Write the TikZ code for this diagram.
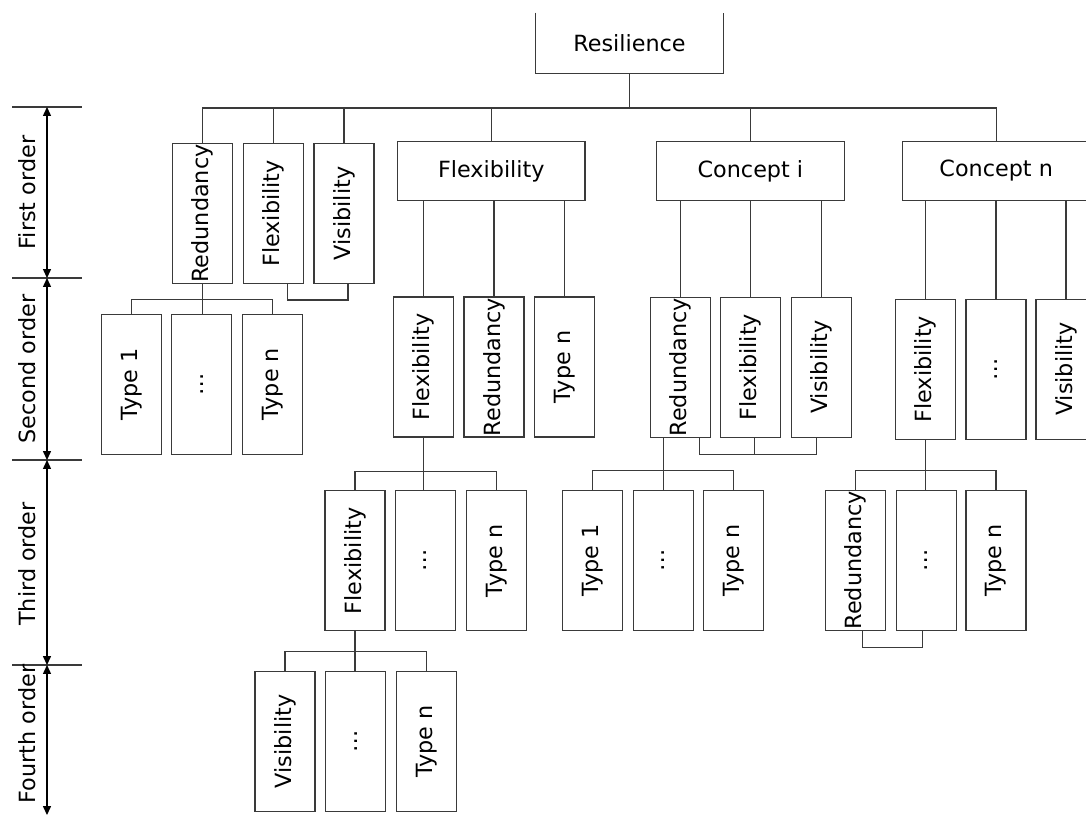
\documentclass[tikz,border=0pt]{standalone}
\usepackage{fontspec}
\setmainfont{DejaVu Sans}
\usepackage{graphicx}
\usepackage{tikz}
\usetikzlibrary{arrows.meta, calc}
\definecolor{linegray}{HTML}{3A3A3A}
\newcommand{\vtxt}[1]{\rotatebox{90}{#1}}

\begin{document}
\begin{tikzpicture}[x=0.02cm, y=-0.02cm,
    every node/.style={font=\fontsize{12.7}{15}\selectfont, text=black},
    vbox/.style={draw=linegray, line width=0.7pt, minimum width=1.2cm, minimum height=2.8cm, inner sep=0pt},
    hbox/.style={draw=linegray, line width=0.7pt, minimum width=3.75cm, minimum height=1.18cm, inner sep=0pt},
    conn/.style={draw=linegray, line width=0.7pt},
    dimarrow/.style={draw=black, line width=0.6pt, {Triangle[width=4.5pt,length=5pt]}-{Triangle[width=4.5pt,length=5pt]}}]
    \useasboundingbox (0,0) rectangle (1086,816);

    % ===== Order axis =====
    \foreach \y in {107,278,460,665} {
        \draw[conn] (12,\y) -- (82,\y);
    }
    \foreach \y [count=\i] in {107,278,460,665,815} {
        \coordinate (t\i) at (47,\y);
    }
    \draw[dimarrow] (t1) -- (t2);
    \draw[dimarrow] (t2) -- (t3);
    \draw[dimarrow] (t3) -- (t4);
    \draw[dimarrow] (t4) -- (t5);
    \node[rotate=90] (lab1) at (27,192.5) {First order};
    \node[rotate=90] (lab2) at (27,369) {Second order};
    \node[rotate=90] (lab3) at (27,564) {Third order};
    \node[rotate=90] (lab4) at (27,734) {Fourth order};

    % ===== Root (top edge cut off) =====
    \node[minimum width=3.75cm, minimum height=1.2cm] (res) at (629.5,43) {Resilience};
    \draw[conn] (res.north west) -- (res.south west) -- (res.south east) -- (res.north east);

    % ===== First order =====
    \node[vbox] (r1) at (202.7,213.5) {\vtxt{Redundancy}};
    \node[vbox] (f1) at (273.3,213.5) {\vtxt{Flexibility}};
    \node[vbox] (v1) at (344,213.5) {\vtxt{Visibility}};
    \node[hbox] (fl) at (491.3,171) {Flexibility};
    \node[hbox] (ci) at (750.4,171) {Concept i};
    \node[hbox] (cn) at (996.2,171) {Concept n};
    \coordinate (top) at (0,108);
    \draw[conn] (r1.north) -- (r1.north |- top) -- (cn.north |- top) -- (cn.north);
    \foreach \n in {f1,v1,fl,ci} {
        \draw[conn] (\n.north) -- (\n.north |- top);
    }
    \draw[conn] (res.south) -- (res.south |- top);
    \draw[conn] ($(f1.south)+(14,0)$) -- ++(0,16) -| ($(v1.south)+(4,0)$);

    % ===== Second order =====
    % under Redundancy
    \node[vbox] (t1a) at (131.4,384.3) {\vtxt{Type 1}};
    \node[vbox] (d1a) at (201.7,384.3) {\vtxt{…}};
    \node[vbox] (tna) at (272.3,384.3) {\vtxt{Type n}};
    \draw[conn] (t1a.north) -- ++(0,-14) -| (tna.north);
    \draw[conn] (r1.south) -- (r1.south |- d1a.north);
    % under Flexibility
    \node[vbox] (f2) at (423.3,367) {\vtxt{Flexibility}};
    \node[vbox] (r2) at (494,367) {\vtxt{Redundancy}};
    \node[vbox] (tn2) at (564.2,367) {\vtxt{Type n}};
    \foreach \n in {f2,r2,tn2} {
        \draw[conn] (\n.north) -- (\n.north |- fl.south);
    }
    % under Concept i
    \node[vbox] (r5) at (680.5,367.2) {\vtxt{Redundancy}};
    \node[vbox] (f5) at (750.8,367.2) {\vtxt{Flexibility}};
    \node[vbox] (v5) at (821.3,367.2) {\vtxt{Visibility}};
    \foreach \n in {r5,f5,v5} {
        \draw[conn] (\n.north) -- (\n.north |- ci.south);
    }
    \draw[conn] ($(r5.south)+(19,0)$) -- ++(0,16.5) -| ($(v5.south)+(-4.6,0)$);
    \draw[conn] ($(f5.south)+(3.5,0)$) -- ++(0,16.5);
    % under Concept n
    \node[vbox] (f7) at (925.4,369.2) {\vtxt{Flexibility}};
    \node[vbox] (d7) at (995.9,369.2) {\vtxt{…}};
    \node[vbox] (v7) at (1066,369.2) {\vtxt{Visibility}};
    \foreach \n in {f7,d7,v7} {
        \draw[conn] (\n.north) -- (\n.north |- cn.south);
    }

    % ===== Third order =====
    \node[vbox] (f3) at (355,560.8) {\vtxt{Flexibility}};
    \node[vbox] (d3) at (425.5,560.8) {\vtxt{…}};
    \node[vbox] (tn3) at (496.7,560.8) {\vtxt{Type n}};
    \draw[conn] (f3.north) -- ++(0,-19) -| (tn3.north);
    \draw[conn] (f2.south) -- (f2.south |- d3.north);

    \node[vbox] (t6) at (592.4,560.3) {\vtxt{Type 1}};
    \node[vbox] (d6) at (663.2,560.3) {\vtxt{…}};
    \node[vbox] (tn6) at (733.7,560.3) {\vtxt{Type n}};
    \draw[conn] (t6.north) -- ++(0,-19) -| (tn6.north);
    \draw[conn] (d6.north) -- (d6.north |- r5.south);

    \node[vbox] (r8) at (855.4,560.3) {\vtxt{Redundancy}};
    \node[vbox] (d8) at (926.2,560.3) {\vtxt{…}};
    \node[vbox] (tn8) at (996,560.3) {\vtxt{Type n}};
    \draw[conn] (r8.north) -- ++(0,-19) -| (tn8.north);
    \draw[conn] (f7.south) -- (f7.south |- d8.north);
    \draw[conn] ($(r8.south)+(7,0)$) -- ++(0,16.5) -| ($(d8.south)+(-3.5,0)$);

    % ===== Fourth order =====
    \node[vbox] (v4) at (285,741.3) {\vtxt{Visibility}};
    \node[vbox] (d4) at (355.8,741.3) {\vtxt{…}};
    \node[vbox] (tn4) at (426.3,741.3) {\vtxt{Type n}};
    \draw[conn] (v4.north) -- ++(0,-19) -| (tn4.north);
    \draw[conn] (f3.south) -- (f3.south |- d4.north);
\end{tikzpicture}
\end{document}
